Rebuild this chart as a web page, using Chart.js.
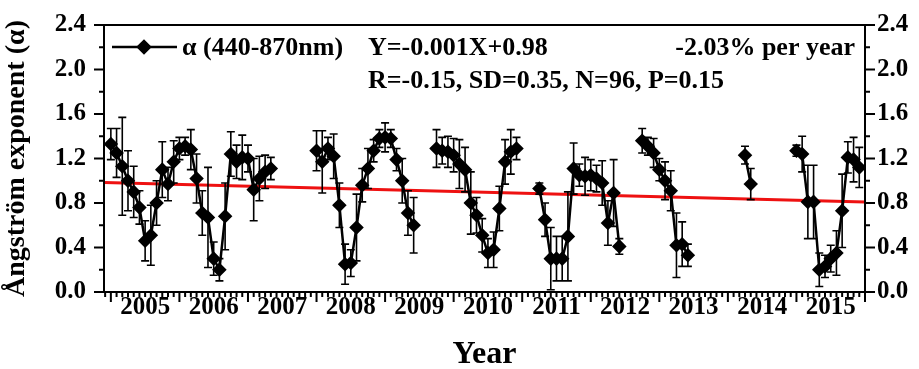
<!DOCTYPE html>
<html>
<head>
<meta charset="utf-8">
<script src="https://cdn.jsdelivr.net/npm/chart.js@4.4.1/dist/chart.umd.min.js"></script>
<style>
  html, body { margin: 0; padding: 0; background: #fff; }
</style>
</head>
<body>
<canvas id="aeChart" width="919" height="369"></canvas>
<script>
// monthly mean Angstrom exponent (440-870nm) and its standard deviation
const obsMonths = [
  '2005-01','2005-02','2005-03','2005-04','2005-05','2005-06','2005-07','2005-08','2005-09','2005-10','2005-11','2005-12',
  '2006-01','2006-02','2006-03','2006-04','2006-05','2006-06','2006-07','2006-08','2006-09','2006-10','2006-11','2006-12',
  '2007-01','2007-02','2007-03','2007-04','2007-05',
  '2008-01','2008-02','2008-03','2008-04','2008-05','2008-06','2008-07','2008-08','2008-09','2008-10','2008-11','2008-12',
  '2009-01','2009-02','2009-03','2009-04','2009-05','2009-06',
  '2009-10','2009-11','2009-12',
  '2010-01','2010-02','2010-03','2010-04','2010-05','2010-06','2010-07','2010-08','2010-09','2010-10','2010-11','2010-12',
  '2011-04','2011-05','2011-06','2011-07','2011-08','2011-09','2011-10','2011-11','2011-12',
  '2012-01','2012-02','2012-03','2012-04','2012-05','2012-06',
  '2012-10','2012-11','2012-12',
  '2013-01','2013-02','2013-03','2013-04','2013-05','2013-06',
  '2014-04','2014-05',
  '2015-01','2015-02','2015-03','2015-04','2015-05','2015-06','2015-07','2015-08','2015-09','2015-10','2015-11','2015-12'
];

const alphaMean = [
  1.33, 1.25, 1.13, 1.00, 0.90, 0.76, 0.46, 0.51, 0.80, 1.10, 0.97, 1.17,
  1.29, 1.31, 1.28, 1.02, 0.71, 0.67, 0.30, 0.20, 0.68, 1.24, 1.17, 1.21,
  1.20, 0.92, 1.02, 1.08, 1.11,
  1.27, 1.17, 1.29, 1.22, 0.78, 0.25, 0.26, 0.58, 0.96, 1.11, 1.27, 1.38,
  1.39, 1.38, 1.19, 1.00, 0.71, 0.60,
  1.29, 1.27, 1.26,
  1.23, 1.15, 1.10, 0.80, 0.69, 0.51, 0.35, 0.38, 0.75, 1.17, 1.26, 1.29,
  0.93, 0.65, 0.30, 0.30, 0.30, 0.50, 1.11, 1.05, 1.04,
  1.05, 1.02, 0.98, 0.62, 0.89, 0.41,
  1.36, 1.31, 1.25,
  1.10, 1.00, 0.91, 0.42, 0.43, 0.33,
  1.23, 0.97,
  1.27, 1.24, 0.81, 0.81, 0.20, 0.23, 0.30, 0.35, 0.73, 1.21, 1.19, 1.12
];

const alphaSD = [
  0.14, 0.22, 0.44, 0.27, 0.23, 0.15, 0.18, 0.27, 0.20, 0.25, 0.15, 0.19,
  0.10, 0.08, 0.18, 0.22, 0.20, 0.45, 0.15, 0.10, 0.30, 0.20, 0.15, 0.20,
  0.12, 0.28, 0.20, 0.15, 0.10,
  0.18, 0.28, 0.10, 0.20, 0.20, 0.18, 0.12, 0.30, 0.15, 0.18, 0.10, 0.08,
  0.13, 0.08, 0.10, 0.20, 0.20, 0.25,
  0.17, 0.12, 0.14,
  0.15, 0.22, 0.20, 0.28, 0.16, 0.15, 0.13, 0.16, 0.20, 0.20, 0.20, 0.10,
  0.05, 0.15, 0.28, 0.20, 0.20, 0.40, 0.23, 0.10, 0.17,
  0.14, 0.12, 0.20, 0.20, 0.30, 0.07,
  0.11, 0.08, 0.13,
  0.10, 0.17, 0.18, 0.29, 0.20, 0.10,
  0.08, 0.14,
  0.05, 0.16, 0.33, 0.33, 0.15, 0.10, 0.12, 0.20, 0.33, 0.14, 0.20, 0.18
];

// linear fit, drawn across the whole time axis
const trendYears = [2004.9, 2016.0];
const trendAlpha = [0.985, 0.81];

const yearLabels = [2005, 2006, 2007, 2008, 2009, 2010, 2011, 2012, 2013, 2014, 2015];
const yTickValues = [0, 0.4, 0.8, 1.2, 1.6, 2.0, 2.4];

const SERIF = '"Liberation Serif", "Times New Roman", serif';

function monthToYear(m) {
    const [y, mo] = m.split('-').map(Number);
    return y + (mo - 1) / 12;
}

// build points, inserting a null wherever months are missing so the line breaks
const alphaPoints = [];
obsMonths.forEach((m, i) => {
    const x = monthToYear(m);
    if (i > 0 && x - monthToYear(obsMonths[i - 1]) > 0.1) {
        alphaPoints.push({ x: x - 0.04, y: null });
    }
    alphaPoints.push({ x: x, y: alphaMean[i], sd: alphaSD[i] });
});

const trendPoints = trendYears.map((x, i) => ({ x: x, y: trendAlpha[i] }));

// vertical error bars with caps, under the black series but over the fit line
const errorBars = {
    id: 'errorBars',
    afterDatasetDraw(chart, args) {
        if (args.index !== 1) return;
        const { ctx, scales: { x, y } } = chart;
        ctx.save();
        ctx.strokeStyle = '#000';
        ctx.lineWidth = 1.6;
        ctx.beginPath();
        alphaPoints.forEach(p => {
            if (p.y === null) return;
            const px = x.getPixelForValue(p.x);
            const top = y.getPixelForValue(p.y + p.sd);
            const bot = y.getPixelForValue(Math.max(0, p.y - p.sd));
            ctx.moveTo(px, top); ctx.lineTo(px, bot);
            ctx.moveTo(px - 4, top); ctx.lineTo(px + 4, top);
            ctx.moveTo(px - 4, bot); ctx.lineTo(px + 4, bot);
        });
        ctx.stroke();
        ctx.restore();
    }
};

// frame plus outward major/minor ticks on three sides
const frameTicks = {
    id: 'frameTicks',
    afterDraw(chart) {
        const { ctx, chartArea: a, scales: { x, y } } = chart;
        ctx.save();
        ctx.strokeStyle = '#000';
        ctx.lineWidth = 2;
        ctx.strokeRect(a.left, a.top, a.right - a.left, a.bottom - a.top);

        ctx.beginPath();
        for (let i = 0; i < yTickValues.length; i++) {
            const py = y.getPixelForValue(yTickValues[i]);
            ctx.moveTo(a.left - 10, py); ctx.lineTo(a.left, py);
            ctx.moveTo(a.right, py); ctx.lineTo(a.right + 10, py);
            if (i < yTickValues.length - 1) {
                const pm = y.getPixelForValue((yTickValues[i] + yTickValues[i + 1]) / 2);
                ctx.moveTo(a.left - 5, pm); ctx.lineTo(a.left, pm);
                ctx.moveTo(a.right, pm); ctx.lineTo(a.right + 5, pm);
            }
        }
        for (let yr = 2004; yr <= 2016; yr++) {
            for (let m = 0; m < 12; m++) {
                const v = yr + m / 12;
                if (v < x.min || v > x.max + 1e-6) continue;
                const px = x.getPixelForValue(v);
                ctx.moveTo(px, a.bottom);
                ctx.lineTo(px, a.bottom + (m === 0 ? 10 : 5));
            }
        }
        ctx.stroke();
        ctx.restore();
    }
};

// legend sample and regression statistics
const fitNotes = {
    id: 'fitNotes',
    afterDraw(chart) {
        const { ctx, chartArea: a } = chart;
        ctx.save();
        ctx.strokeStyle = '#000';
        ctx.fillStyle = '#000';
        ctx.lineWidth = 2.5;
        ctx.beginPath();
        ctx.moveTo(a.left + 8, 47); ctx.lineTo(a.left + 73, 47);
        ctx.stroke();
        Chart.helpers.drawPoint(ctx, { pointStyle: 'rectRot', radius: 6, borderWidth: 1 }, a.left + 40, 47);
        ctx.fill();

        ctx.font = 'bold 26px ' + SERIF;
        ctx.textBaseline = 'middle';
        ctx.textAlign = 'left';
        ctx.fillText('\u03b1 (440-870nm)', a.left + 78, 48);
        ctx.fillText('Y=-0.001X+0.98', a.left + 264, 48);
        ctx.fillText('R=-0.15, SD=0.35, N=96, P=0.15', a.left + 264, 81);
        ctx.textAlign = 'right';
        ctx.fillText('-2.03% per year', a.right - 10, 48);
        ctx.restore();
    }
};

const tickFont = { family: SERIF, size: 25, weight: 'bold' };

// keep the plot frame fixed: labels may hang over the top/bottom edges
function fixSide(width) {
    return s => {
        s.width = width;
        s.paddingTop = 0;
        s.paddingBottom = 0;
    };
}

new Chart(document.getElementById('aeChart'), {
    type: 'line',
    data: {
        datasets: [
            {
                label: '\u03b1 (440-870nm)',
                data: alphaPoints,
                borderColor: '#000',
                borderWidth: 2.5,
                pointStyle: 'rectRot',
                pointRadius: 5.5,
                pointBackgroundColor: '#000',
                pointBorderColor: '#000',
                spanGaps: false,
                order: 0
            },
            {
                label: 'fit',
                data: trendPoints,
                borderColor: '#ee1111',
                borderWidth: 3,
                pointRadius: 0,
                order: 1
            }
        ]
    },
    options: {
        responsive: false,
        animation: false,
        devicePixelRatio: 1,
        layout: { padding: { top: 25, left: 0, right: 0, bottom: 0 } },
        plugins: { legend: { display: false }, tooltip: { enabled: false } },
        scales: {
            x: {
                type: 'linear',
                min: 2004.9,
                max: 2016,
                afterFit: s => { s.height = 77; s.paddingLeft = 0; s.paddingRight = 0; },
                afterBuildTicks: s => { s.ticks = yearLabels.map(y => ({ value: y + 0.5 })); },
                grid: { display: false, drawTicks: false },
                border: { display: false },
                ticks: {
                    font: tickFont,
                    color: '#000',
                    padding: 1,
                    autoSkip: false,
                    maxRotation: 0,
                    callback: v => String(Math.floor(v))
                },
                title: {
                    display: true,
                    text: 'Year',
                    color: '#000',
                    font: { family: SERIF, size: 32, weight: 'bold' },
                    padding: { top: 0, bottom: -5 }
                }
            },
            y: {
                position: 'left',
                min: 0,
                max: 2.4,
                afterFit: fixSide(104),
                afterBuildTicks: s => { s.ticks = yTickValues.map(v => ({ value: v })); },
                grid: { display: false, drawTicks: false },
                border: { display: false },
                ticks: { font: tickFont, color: '#000', padding: 18, callback: v => v.toFixed(1) },
                title: {
                    display: true,
                    text: '\u00c5ngstr\u00f6m exponent (\u03b1)',
                    color: '#000',
                    font: { family: SERIF, size: 28, weight: 'bold' },
                    padding: { top: 0, bottom: 4 }
                }
            },
            y2: {
                position: 'right',
                min: 0,
                max: 2.4,
                afterFit: fixSide(54),
                afterBuildTicks: s => { s.ticks = yTickValues.map(v => ({ value: v })); },
                grid: { display: false, drawTicks: false },
                border: { display: false },
                ticks: { font: tickFont, color: '#000', padding: 12, callback: v => v.toFixed(1) }
            }
        }
    },
    plugins: [errorBars, frameTicks, fitNotes]
});
</script>
</body>
</html>
